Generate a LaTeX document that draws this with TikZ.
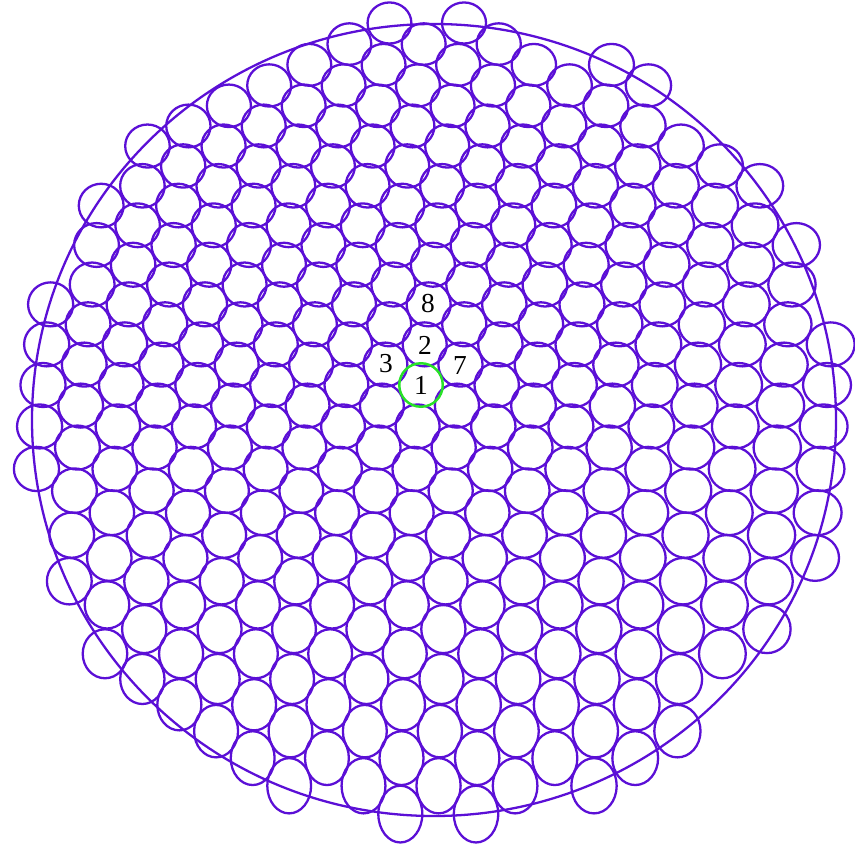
\documentclass[tikz,border=0pt]{standalone}
\usepackage{fontspec}
\setmainfont{Liberation Serif}
\definecolor{cellblue}{RGB}{91,15,214}
\definecolor{cellgreen}{RGB}{40,225,40}
\tikzset{
  cell/.style={draw=cellblue, line width=0.65pt},
  rim/.style={draw=cellblue, line width=0.65pt},
  lbl/.style={inner sep=0pt, font=\fontsize{7.8}{9}\selectfont},
  firstcell/.style={circle, draw=cellgreen, line width=0.7pt, inner sep=0pt, minimum size=4.35mm, font=\fontsize{7.8}{9}\selectfont}
}
\begin{document}
\begin{tikzpicture}[x=0.01cm, y=-0.01cm]
\useasboundingbox (0,0) rectangle (855,855);
\foreach \j in {-11,...,11} {
  \foreach \k in {-15,...,15} {
    \pgfmathsetmacro\vt{\k-(\j)/2}
    \pgfmathsetmacro\cx{421+37.5*(\j)+0.14*(\j)*(\j)+0.017*(\j)*(\j)*(\j)-3.54*\vt+0.138*\vt*\vt}
    \pgfmathsetmacro\cy{385+41*\vt+0.414*\vt*\vt+0.0364*\vt*\vt*\vt}
    \pgfmathsetmacro\rx{0.5*(44+0.5*(0.28*(\j)+0.051*(\j)*(\j)))}
    \pgfmathsetmacro\ry{0.5*(44+0.2*max(\vt-1,0)^2-0.06*min(\vt+2,0)^2)}
    \pgfmathtruncatemacro\keep{((((\cx-434)/402)^2+((\cy-420)/396)^2)<1.02)&&((\j!=0)||(\k!=0))}
    \ifnum\keep=1 \draw[cell] (\cx,\cy) ellipse [x radius=\rx, y radius=\ry]; \fi
  }
}
\draw[rim] (434,420) ellipse [x radius=402, y radius=396];
\node[firstcell] (c1) at (421,385) {1};
\node[lbl] (c2) at (425,345) {2};
\node[lbl] (c3) at (386,364) {3};
\node[lbl] (c7) at (460,366) {7};
\node[lbl] (c8) at (428,304) {8};
\end{tikzpicture}
\end{document}
